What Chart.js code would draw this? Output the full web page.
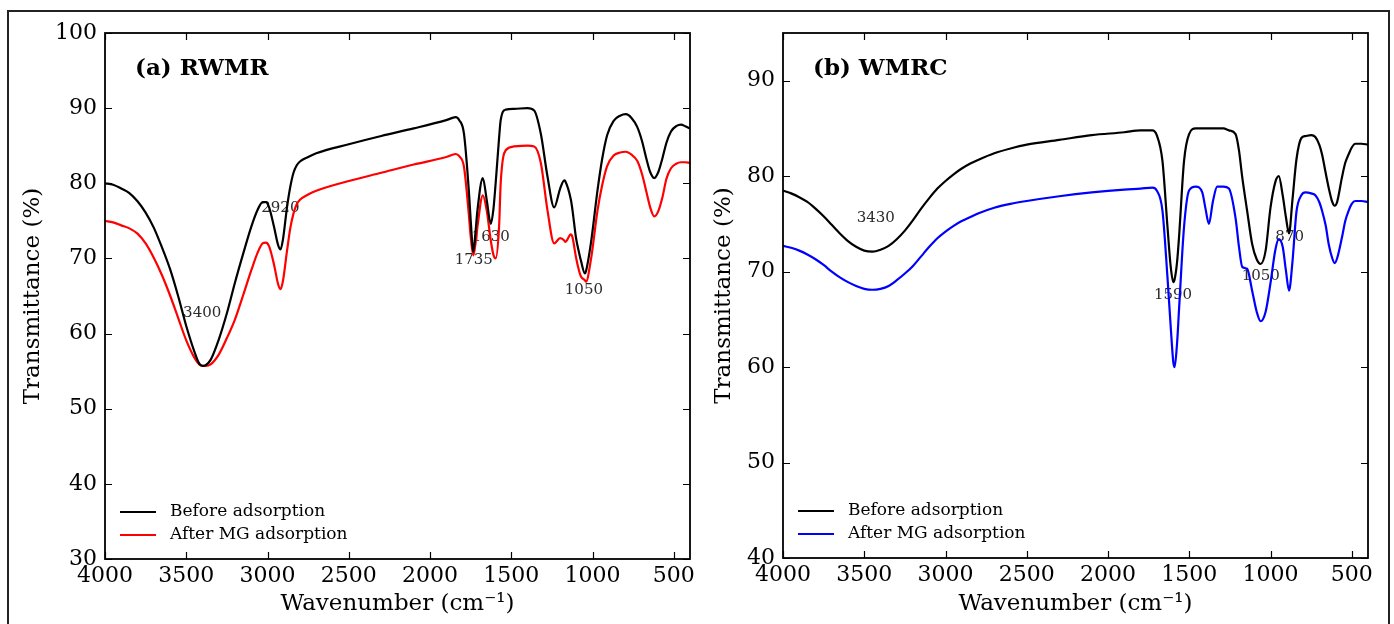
<!DOCTYPE html>
<html lang="en">
<head>
<meta charset="UTF-8">
<title>FTIR spectra</title>
<script src="https://cdn.jsdelivr.net/npm/chart.js"></script>
<style>
  html, body { margin: 0; padding: 0; background: #fff; overflow: hidden; }
  #frame { position: absolute; left: 7px; top: 10px; width: 1383px; height: 700px; border: 2px solid #222; box-sizing: border-box; }
  .panel { position: absolute; top: 0; width: 697px; height: 624px; }
</style>
</head>
<body>
<div id="frame"></div>
<div class="panel" style="left:0"><canvas id="chartA"></canvas></div>
<div class="panel" style="left:697px"><canvas id="chartB"></canvas></div>

<script>
// (a) RWMR - wavenumber grid and transmittance (%)
const waveA = [4000, 3950, 3900, 3850, 3800, 3750, 3700, 3650, 3600, 3550,
               3500, 3450, 3420, 3400, 3380, 3350, 3300, 3250, 3200, 3150,
               3100, 3060, 3030, 3010, 2990, 2960, 2935, 2920, 2905, 2880,
               2860, 2840, 2820, 2800, 2750, 2700, 2500, 2300, 2100, 1900,
               1842, 1820, 1791, 1760, 1750, 1733, 1720, 1708, 1675, 1651,
               1626, 1610, 1596, 1575, 1565, 1534, 1483, 1400, 1359, 1318,
               1277, 1236, 1199, 1174, 1168, 1133, 1123, 1102, 1082, 1071,
               1047, 1040, 1010, 969, 940, 910, 870, 830, 795, 760,
               725, 695, 670, 645, 620, 595, 570, 545, 517, 485,
               455, 430, 400];
const beforeA = [80.0, 79.8, 79.3, 78.7, 77.6, 76.1, 74.1, 71.5, 68.6, 65.0,
                 61.0, 57.6, 56.0, 55.7, 55.8, 56.5, 59.2, 62.7, 66.8, 70.6,
                 74.2, 76.5, 77.5, 77.5, 76.8, 74.2, 71.8, 71.2, 72.5, 76.8,
                 79.5, 81.4, 82.4, 82.9, 83.5, 84.0, 85.2, 86.3, 87.3, 88.4,
                 88.8, 88.4, 86.6, 78.7, 75.2, 70.9, 73.5, 76.4, 80.7, 77.8,
                 74.6, 76.5, 80.0, 86.0, 88.4, 89.8, 89.9, 90.0, 89.7, 86.6,
                 80.9, 76.8, 79.3, 80.4, 80.3, 77.8, 76.4, 72.8, 70.7, 69.7,
                 68.0, 68.3, 72.0, 79.1, 83.3, 86.4, 88.3, 89.0, 89.2, 88.7,
                 87.5, 85.6, 83.4, 81.5, 80.7, 81.5, 83.3, 85.4, 86.9, 87.6,
                 87.8, 87.6, 87.3];
const afterA = [75.0, 74.8, 74.4, 74.0, 73.3, 72.0, 70.1, 67.8, 65.1, 62.1,
                59.1, 56.8, 55.9, 55.7, 55.7, 55.9, 57.2, 59.4, 61.9, 65.1,
                68.4, 70.8, 72.0, 72.1, 71.6, 69.2, 66.6, 65.9, 67.0, 71.0,
                74.0, 76.0, 77.2, 77.8, 78.5, 79.0, 80.3, 81.4, 82.5, 83.5,
                83.9, 83.6, 82.2, 75.6, 73.0, 70.4, 72.0, 74.2, 78.4, 76.4,
                72.4, 70.5, 70.0, 74.2, 80.0, 84.4, 84.9, 85.0, 84.9, 82.7,
                76.4, 72.0, 72.7, 72.4, 72.2, 73.2, 72.8, 70.2, 68.3, 67.6,
                67.1, 66.9, 69.8, 76.4, 79.8, 82.3, 83.7, 84.1, 84.2, 83.8,
                83.0, 81.2, 79.0, 76.8, 75.6, 76.3, 78.1, 80.6, 82.0, 82.6,
                82.8, 82.8, 82.7];

// (b) WMRC
const waveB = [4000, 3950, 3900, 3850, 3800, 3750, 3700, 3650, 3600, 3550,
               3500, 3450, 3400, 3350, 3300, 3250, 3200, 3150, 3100, 3050,
               3000, 2950, 2900, 2850, 2800, 2700, 2600, 2500, 2300, 2100,
               1900, 1800, 1727, 1700, 1665, 1634, 1614, 1598, 1590, 1575,
               1563, 1532, 1501, 1460, 1420, 1400, 1379, 1355, 1328, 1290,
               1256, 1215, 1194, 1174, 1144, 1113, 1085, 1061, 1030, 1000,
               970, 949, 925, 905, 886, 865, 840, 810, 785, 750,
               724, 700, 683, 660, 642, 620, 605, 590, 560, 540,
               519, 500, 478, 440, 400];
const beforeB = [78.5, 78.2, 77.8, 77.3, 76.6, 75.8, 74.9, 74.0, 73.2, 72.6,
                 72.2, 72.1, 72.3, 72.7, 73.4, 74.3, 75.4, 76.6, 77.7, 78.7,
                 79.5, 80.2, 80.8, 81.3, 81.7, 82.4, 82.9, 83.3, 83.8, 84.3,
                 84.6, 84.8, 84.8, 84.3, 81.6, 74.7, 70.5, 68.9, 69.2, 71.0,
                 73.6, 81.6, 84.4, 85.0, 85.0, 85.0, 85.0, 85.0, 85.0, 85.0,
                 84.8, 84.4, 82.7, 79.9, 76.4, 72.9, 71.3, 70.8, 72.2, 76.7,
                 79.4, 80.0, 78.0, 75.7, 74.0, 77.5, 81.8, 84.0, 84.2, 84.3,
                 84.1, 83.3, 82.3, 80.3, 78.8, 77.3, 76.9, 77.3, 79.9, 81.4,
                 82.3, 83.0, 83.4, 83.4, 83.3];
const afterB = [72.7, 72.5, 72.2, 71.8, 71.3, 70.7, 70.0, 69.4, 68.9, 68.5,
                68.2, 68.1, 68.2, 68.5, 69.1, 69.8, 70.6, 71.6, 72.6, 73.5,
                74.2, 74.8, 75.3, 75.7, 76.1, 76.7, 77.1, 77.4, 77.9, 78.3,
                78.6, 78.7, 78.8, 78.5, 76.4, 69.4, 64.2, 60.5, 60.0, 62.5,
                66.0, 74.7, 78.5, 78.9, 78.3, 76.6, 75.0, 77.3, 78.9, 78.9,
                78.7, 75.6, 72.6, 70.5, 70.3, 68.0, 65.8, 64.8, 65.8, 68.8,
                72.3, 73.4, 72.6, 70.1, 68.0, 71.0, 76.3, 78.0, 78.3, 78.2,
                78.0, 77.3, 76.4, 74.8, 72.9, 71.4, 70.9, 71.4, 73.6, 75.3,
                76.4, 77.1, 77.4, 77.4, 77.3];

const xTicks = [4000, 3500, 3000, 2500, 2000, 1500, 1000, 500];
const yTicksA = [30, 40, 50, 60, 70, 80, 90, 100];
const yTicksB = [40, 50, 60, 70, 80, 90];
const seriesNames = ['Before adsorption', 'After MG adsorption'];

// peak labels, in data units
const peaksA = [
  { text: '3400', x: 3402, y: 62.7 },
  { text: '2920', x: 2921, y: 76.7 },
  { text: '1735', x: 1731, y: 69.8 },
  { text: '1630', x: 1626, y: 72.9 },
  { text: '1050', x: 1053, y: 65.8 }
];
const peaksB = [
  { text: '3430', x: 3429, y: 75.6 },
  { text: '1590', x: 1600, y: 67.5 },
  { text: '1050', x: 1060, y: 69.5 },
  { text: '870', x: 882, y: 73.6 }
];

const serif = "'DejaVu Serif', serif";

function points(wave, vals) {
  return wave.map((w, i) => ({ x: w, y: vals[i] }));
}

const decor = {
  id: 'decor',
  beforeDatasetsDraw(chart, args, opts) {
    const ctx = chart.ctx;
    const { x, y } = chart.scales;
    ctx.save();
    ctx.fillStyle = '#2b2b2b';
    ctx.font = '15px ' + serif;
    ctx.textAlign = 'center';
    ctx.textBaseline = 'middle';
    opts.peaks.forEach(p => {
      ctx.fillText(p.text, x.getPixelForValue(p.x), y.getPixelForValue(p.y));
    });
    ctx.restore();
  },
  afterDraw(chart, args, opts) {
    const ctx = chart.ctx;
    const a = chart.chartArea;
    const { x, y } = chart.scales;
    ctx.save();

    // inward ticks on all four sides
    ctx.strokeStyle = '#000';
    ctx.lineWidth = 1.2;
    ctx.beginPath();
    x.ticks.forEach(t => {
      const px = Math.round(x.getPixelForValue(t.value)) + 0.5;
      ctx.moveTo(px, a.bottom); ctx.lineTo(px, a.bottom - 7);
      ctx.moveTo(px, a.top); ctx.lineTo(px, a.top + 7);
    });
    y.ticks.forEach(t => {
      const py = Math.round(y.getPixelForValue(t.value)) + 0.5;
      ctx.moveTo(a.left, py); ctx.lineTo(a.left + 7, py);
      ctx.moveTo(a.right, py); ctx.lineTo(a.right - 7, py);
    });
    ctx.stroke();

    // box
    ctx.lineWidth = 1.8;
    ctx.strokeRect(a.left, a.top, a.right - a.left, a.bottom - a.top);

    // panel title
    ctx.fillStyle = '#000';
    ctx.font = 'bold 23px ' + serif;
    ctx.textAlign = 'left';
    ctx.textBaseline = 'middle';
    ctx.fillText(opts.title, a.left + 30, a.top + 36);

    // legend
    ctx.font = '17px ' + serif;
    chart.data.datasets.forEach((ds, i) => {
      const ly = a.bottom - 47 + i * 23;
      ctx.strokeStyle = ds.borderColor;
      ctx.lineWidth = 2;
      ctx.beginPath();
      ctx.moveTo(a.left + 15, ly);
      ctx.lineTo(a.left + 51, ly);
      ctx.stroke();
      ctx.fillStyle = '#000';
      ctx.fillText(ds.label, a.left + 65, ly);
    });
    ctx.restore();
  }
};

function makeChart(id, cfg) {
  return new Chart(document.getElementById(id), {
    type: 'line',
    data: {
      datasets: [
        { label: seriesNames[0], data: points(cfg.wave, cfg.before), borderColor: '#000000' },
        { label: seriesNames[1], data: points(cfg.wave, cfg.after), borderColor: cfg.color }
      ]
    },
    options: {
      responsive: true,
      maintainAspectRatio: false,
      animation: false,
      layout: { padding: { left: 0, top: 33, right: cfg.padRight, bottom: 0 } },
      elements: {
        point: { radius: 0 },
        line: { borderWidth: 2.2, cubicInterpolationMode: 'monotone', fill: false }
      },
      plugins: {
        legend: { display: false },
        tooltip: { enabled: false },
        decor: { title: cfg.title, peaks: cfg.peaks }
      },
      scales: {
        x: {
          type: 'linear',
          reverse: true,
          min: 400,
          max: 4000,
          grid: { display: false, drawTicks: false },
          border: { display: false },
          afterBuildTicks: s => { s.ticks = xTicks.map(v => ({ value: v })); },
          afterFit: s => { s.height = cfg.xAxisH; s.paddingLeft = 0; s.paddingRight = 0; },
          ticks: {
            autoSkip: false, maxRotation: 0, padding: 4, color: '#000',
            font: { family: serif, size: 22 },
            callback: v => String(v)
          },
          title: {
            display: true, text: 'Wavenumber (cm⁻¹)', color: '#000',
            font: { family: serif, size: 23 }, padding: { top: 0, bottom: 6 }
          }
        },
        y: {
          min: cfg.yMin,
          max: cfg.yMax,
          grid: { display: false, drawTicks: false },
          border: { display: false },
          afterBuildTicks: s => { s.ticks = cfg.yTicks.map(v => ({ value: v })); },
          afterFit: s => { s.width = cfg.yAxisW; s.paddingTop = 0; s.paddingBottom = 0; },
          ticks: {
            autoSkip: false, padding: 8, color: '#000',
            font: { family: serif, size: 22 },
            callback: v => String(v)
          },
          title: {
            display: true, text: 'Transmittance (%)', color: '#000',
            font: { family: serif, size: 23 }, padding: { top: cfg.yTitlePad, bottom: 0 }
          }
        }
      }
    },
    plugins: [decor]
  });
}

makeChart('chartA', {
  wave: waveA, before: beforeA, after: afterA, color: '#ff0000',
  title: '(a) RWMR', peaks: peaksA,
  yMin: 30, yMax: 100, yTicks: yTicksA,
  yAxisW: 105, xAxisH: 65, padRight: 7, yTitlePad: 19
});

makeChart('chartB', {
  wave: waveB, before: beforeB, after: afterB, color: '#0000ff',
  title: '(b) WMRC', peaks: peaksB,
  yMin: 40, yMax: 95, yTicks: yTicksB,
  yAxisW: 86, xAxisH: 66, padRight: 26, yTitlePad: 13
});
</script>
</body>
</html>
